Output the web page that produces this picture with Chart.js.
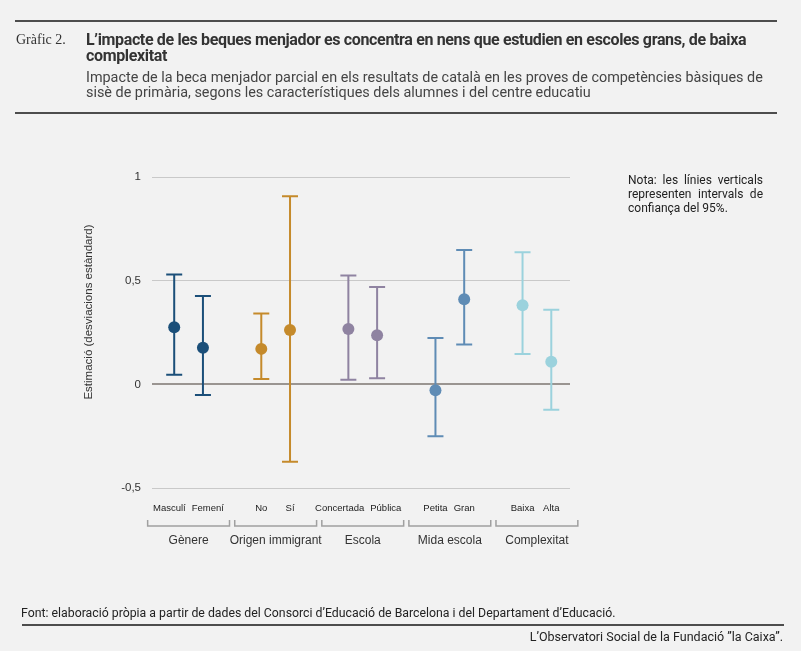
<!DOCTYPE html>
<html>
<head>
<meta charset="utf-8">
<script src="https://cdn.jsdelivr.net/npm/chart.js@4"></script>
<style>
  html, body { margin: 0; padding: 0; background: #f2f2f2; }
  #page { position: relative; width: 801px; height: 651px; overflow: hidden; font-family: Roboto, sans-serif; color: #333; }
  #wrap { position: absolute; left: 0; top: 0; width: 801px; height: 651px; }
  .rule { position: absolute; height: 2px; background: #4d4d4d; }
  #num { position: absolute; left: 16px; top: 32px; font-family: "Liberation Serif", "DejaVu Serif", serif; font-size: 14px; color: #333; }
  #title { position: absolute; left: 86px; top: 32px; width: 668px; font-size: 16px; line-height: 16px; font-weight: bold; letter-spacing: -0.35px; color: #333; }
  #sub { position: absolute; left: 86px; top: 70px; width: 682px; font-size: 14.4px; line-height: 15px; color: #444; }
  #note { position: absolute; left: 628px; top: 173px; width: 135px; font-size: 12px; line-height: 14px; text-align: justify; color: #222; }
  #src { position: absolute; left: 21px; top: 606px; font-size: 12.3px; color: #222; }
  #brand { position: absolute; right: 18px; top: 629px; font-size: 12.5px; color: #222; }
</style>
</head>
<body>
<div id="page">
  <div id="wrap"><canvas id="errChart"></canvas></div>
  <div class="rule" style="left:15px; width:762px; top:20px;"></div>
  <div id="num">Gràfic 2.</div>
  <div id="title">L’impacte de les beques menjador es concentra en nens que estudien en escoles grans, de baixa complexitat</div>
  <div id="sub">Impacte de la beca menjador parcial en els resultats de català en les proves de competències bàsiques de sisè de primària, segons les característiques dels alumnes i del centre educatiu</div>
  <div class="rule" style="left:15px; width:762px; top:112px;"></div>
  <div id="note">Nota: les línies verticals representen intervals de confiança del 95%.</div>
  <div id="src">Font: elaboració pròpia a partir de dades del Consorci d’Educació de Barcelona i del Departament d’Educació.</div>
  <div class="rule" style="left:22px; width:762px; top:624px;"></div>
  <div id="brand">L’Observatori Social de la Fundació ”la Caixa”.</div>
</div>
<script>
// dades
const groups = ['Gènere', 'Origen immigrant', 'Escola', 'Mida escola', 'Complexitat'];
const categories = ['Masculí', 'Femení', 'No', 'Sí', 'Concertada', 'Pública', 'Petita', 'Gran', 'Baixa', 'Alta'];
const estimate = [0.275, 0.176, 0.171, 0.262, 0.267, 0.237, -0.029, 0.410, 0.381, 0.109];
const lower    = [0.046, -0.051, 0.026, -0.373, 0.022, 0.029, -0.251, 0.192, 0.146, -0.122];
const upper    = [0.530, 0.426, 0.342, 0.907, 0.525, 0.470, 0.224, 0.648, 0.637, 0.360];
const yTicks = [-0.5, 0, 0.5, 1];

const groupColors = ['#1b4f79', '#c58a2b', '#8f83a1', '#5f8cb5', '#9bd2dd'];
const pairOffset = 0.165;
const labelFont = '9.5px "Liberation Sans", Arial, sans-serif';

// cada grup té dues categories
const catX = categories.map((c, i) => Math.floor(i / 2) + (i % 2 === 0 ? -pairOffset : pairOffset));

const datasets = groups.map((g, gi) => ({
    label: g,
    data: [0, 1].map(k => {
        const i = gi * 2 + k;
        return { x: catX[i], y: estimate[i], yMin: lower[i], yMax: upper[i] };
    }),
    backgroundColor: groupColors[gi],
    borderColor: groupColors[gi],
    borderWidth: 0,
    pointRadius: 6,
    pointHoverRadius: 6
}));

// barres d'error (interval de confiança)
const errorBars = {
    id: 'errorBars',
    beforeDatasetsDraw(chart) {
        const { ctx, scales: { x, y } } = chart;
        ctx.save();
        ctx.lineWidth = 2;
        chart.data.datasets.forEach(ds => {
            ctx.strokeStyle = ds.borderColor;
            ds.data.forEach(p => {
                const px = x.getPixelForValue(p.x);
                const top = y.getPixelForValue(p.yMax);
                const bot = y.getPixelForValue(p.yMin);
                ctx.beginPath();
                ctx.moveTo(px, top); ctx.lineTo(px, bot);
                ctx.moveTo(px - 8, top); ctx.lineTo(px + 8, top);
                ctx.moveTo(px - 8, bot); ctx.lineTo(px + 8, bot);
                ctx.stroke();
            });
        });
        ctx.restore();
    }
};

// etiquetes de categoria, claudàtors i noms de grup sota l'eix
const groupLabels = {
    id: 'groupLabels',
    afterDraw(chart) {
        const { ctx, scales: { x, y } } = chart;
        ctx.save();
        ctx.textAlign = 'center';
        ctx.textBaseline = 'middle';

        // etiquetes de categoria: separar-les si es trepitgen
        ctx.fillStyle = '#222';
        ctx.font = labelFont;
        const ly = y.bottom + 20;
        groups.forEach((g, gi) => {
            const a = gi * 2, b = gi * 2 + 1;
            let xa = x.getPixelForValue(catX[a]);
            let xb = x.getPixelForValue(catX[b]);
            const wa = ctx.measureText(categories[a]).width;
            const wb = ctx.measureText(categories[b]).width;
            const overlap = (xa + wa / 2) - (xb - wb / 2) + 6;
            if (overlap > 0) { xa -= overlap / 2; xb += overlap / 2; }
            ctx.fillText(categories[a], xa, ly);
            ctx.fillText(categories[b], xb, ly);
        });

        const yb = y.bottom + 38;
        ctx.strokeStyle = '#a0a0a0';
        ctx.lineWidth = 1.5;
        ctx.fillStyle = '#333';
        ctx.font = '12px "Liberation Sans", Arial, sans-serif';
        groups.forEach((g, gi) => {
            const l = x.getPixelForValue(gi - 0.47);
            const r = x.getPixelForValue(gi + 0.47);
            ctx.beginPath();
            ctx.moveTo(l, yb - 6); ctx.lineTo(l, yb); ctx.lineTo(r, yb); ctx.lineTo(r, yb - 6);
            ctx.stroke();
            ctx.fillText(g, x.getPixelForValue(gi), yb + 15);
        });

        // títol de l'eix Y
        ctx.translate(89, 312);
        ctx.rotate(-Math.PI / 2);
        ctx.font = '11.5px "Liberation Sans", Arial, sans-serif';
        ctx.fillText('Estimació (desviacions estàndard)', 0, 0);
        ctx.restore();
    }
};

new Chart(document.getElementById('errChart'), {
    type: 'scatter',
    data: { datasets: datasets },
    options: {
        responsive: true,
        maintainAspectRatio: false,
        animation: false,
        events: [],
        layout: { padding: { left: 82, top: 177, right: 231, bottom: 133 } },
        plugins: { legend: { display: false }, tooltip: { enabled: false } },
        scales: {
            x: {
                type: 'linear',
                min: -0.42,
                max: 4.38,
                afterBuildTicks: scale => { scale.ticks = catX.map(v => ({ value: v })); },
                afterFit: scale => { scale.height = 30; },
                grid: { display: false },
                border: { display: false },
                ticks: { display: false }
            },
            y: {
                min: -0.5,
                max: 1,
                afterBuildTicks: scale => { scale.ticks = yTicks.map(v => ({ value: v })); },
                afterFit: scale => { scale.width = 70; },
                border: { display: false },
                grid: {
                    drawTicks: false,
                    color: ctx => ctx.tick.value === 0 ? '#9a9591' : '#c9c9c9',
                    lineWidth: ctx => ctx.tick.value === 0 ? 2 : 1
                },
                ticks: {
                    padding: 11,
                    color: '#333',
                    font: { family: '"Liberation Sans", Arial, sans-serif', size: 11.5 },
                    callback: v => String(v).replace('.', ',')
                }
            }
        }
    },
    plugins: [errorBars, groupLabels]
});
</script>
</body>
</html>
